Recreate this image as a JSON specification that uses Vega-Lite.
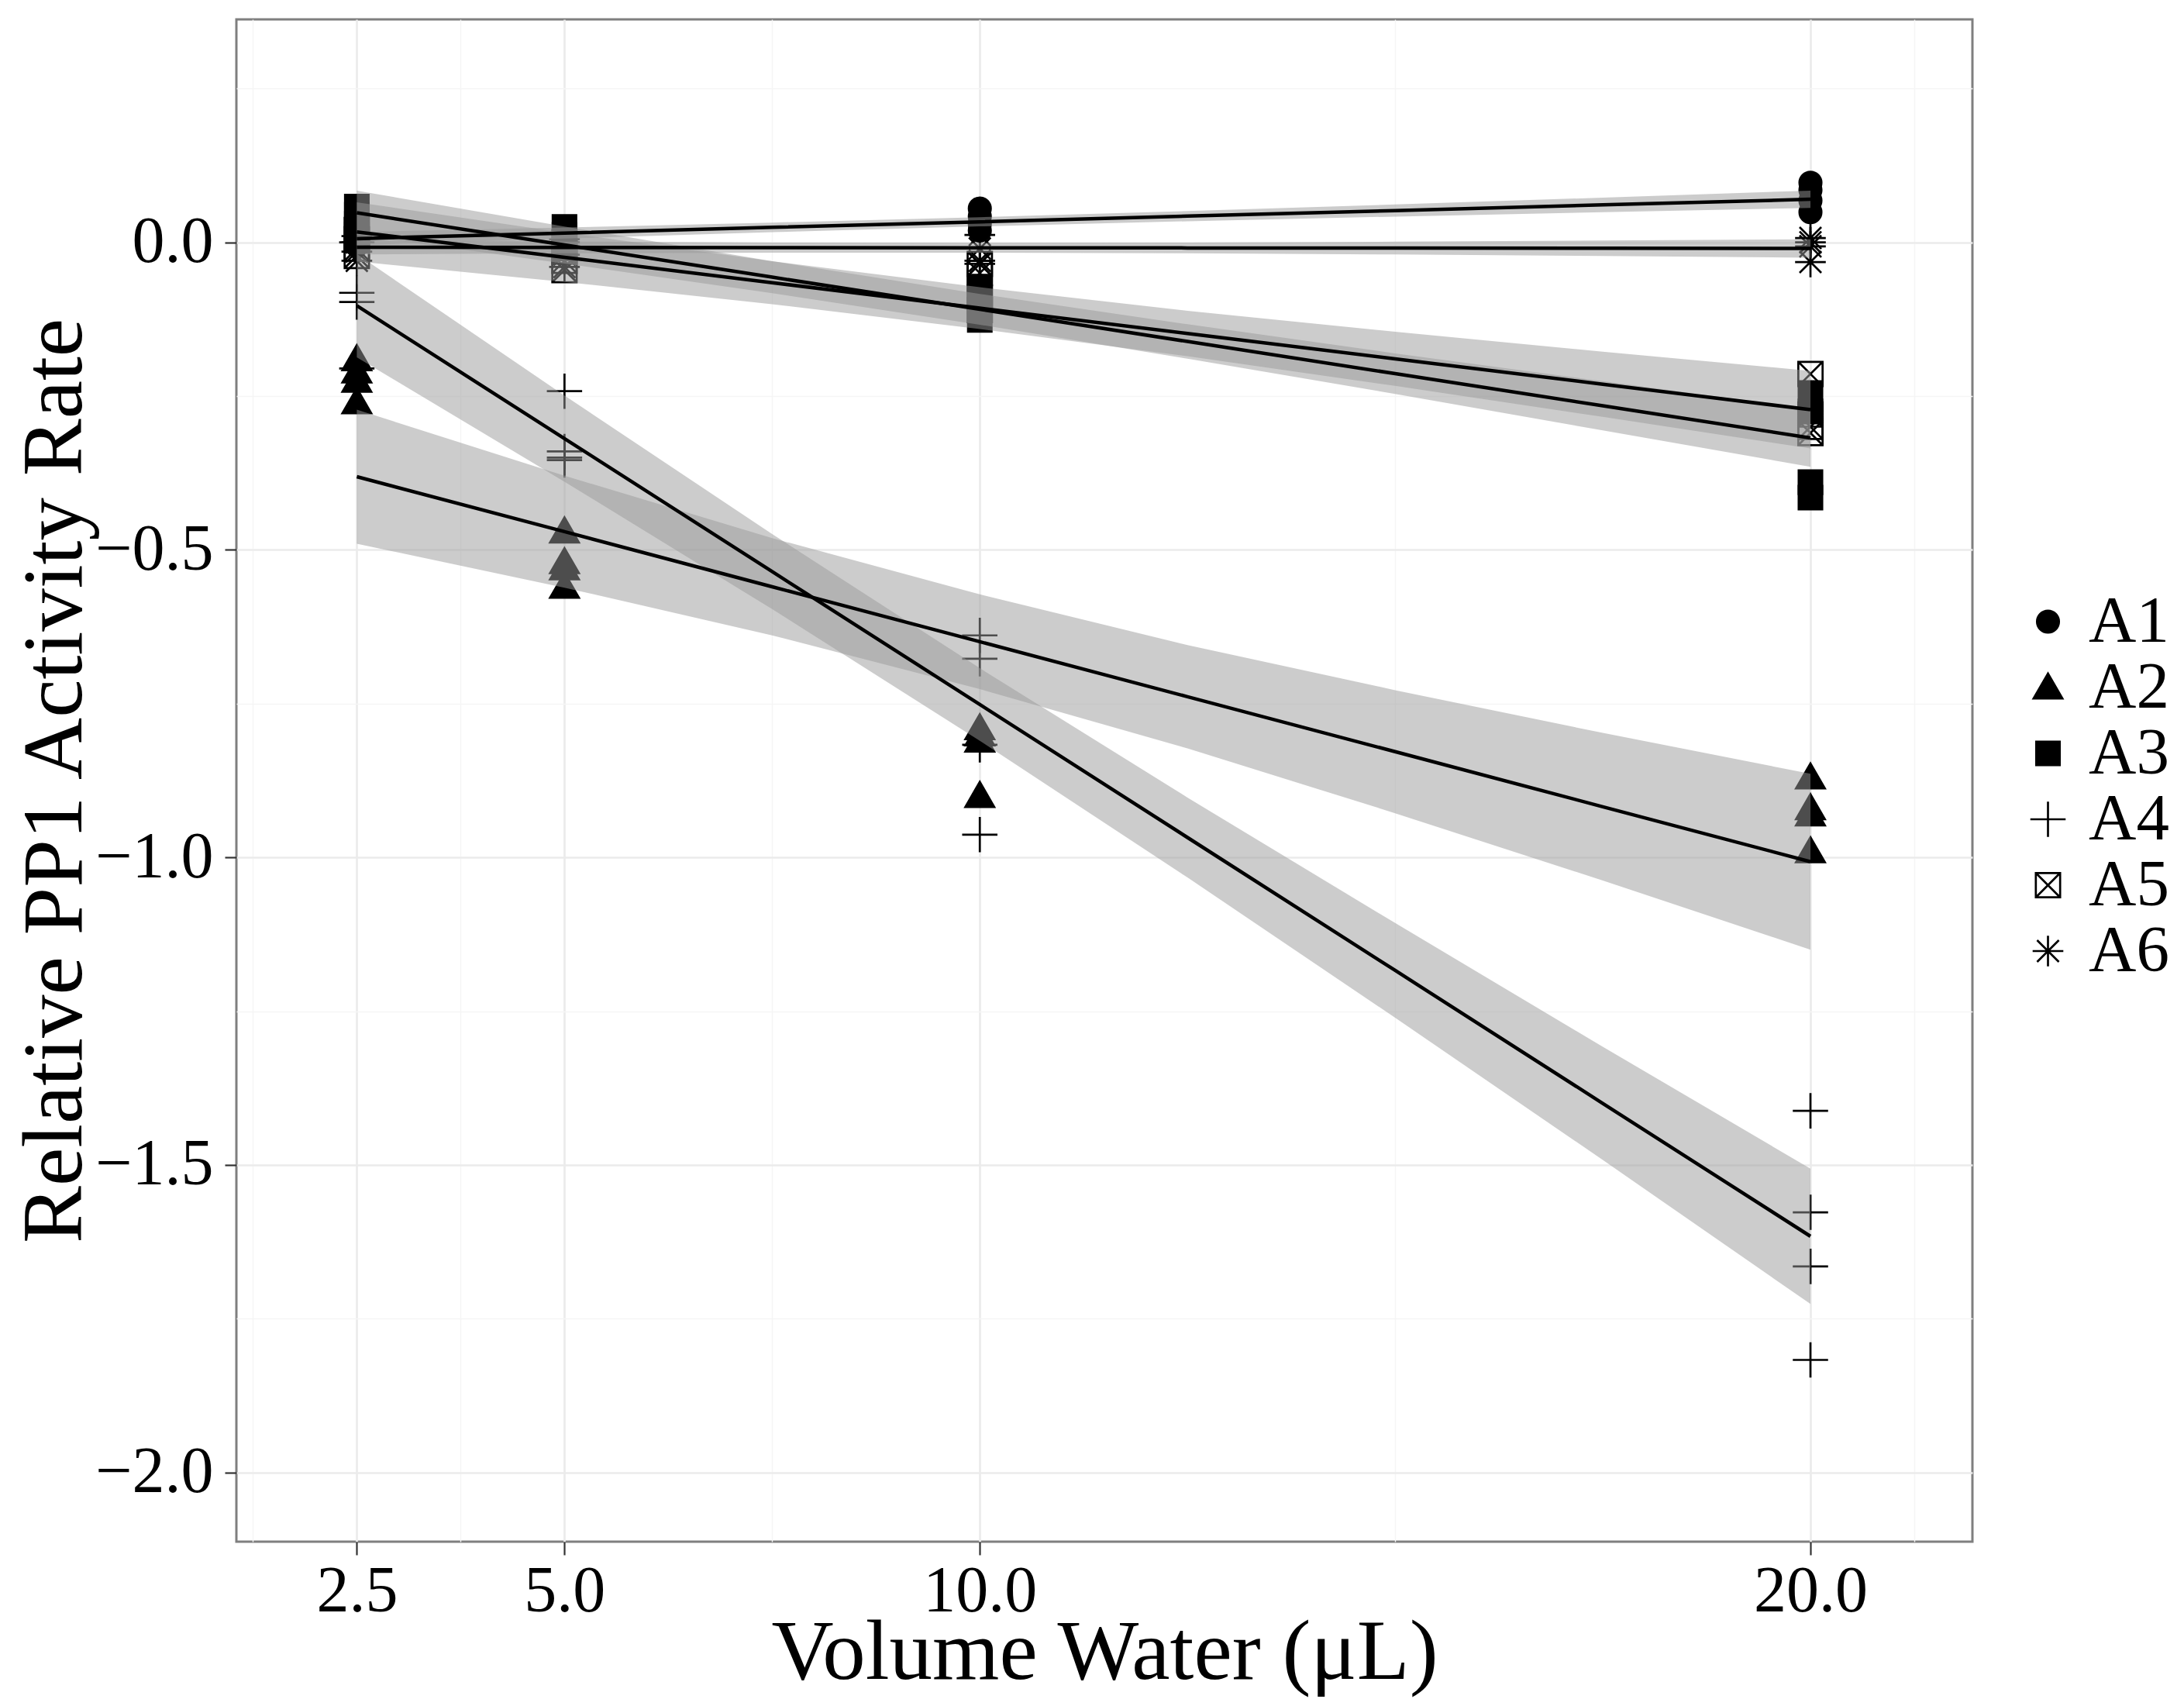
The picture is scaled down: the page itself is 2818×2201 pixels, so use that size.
{
  "$schema": "https://vega.github.io/schema/vega-lite/v6.json",
  "width": 2240,
  "height": 1964,
  "autosize": {"type": "none"},
  "padding": {"left": 305, "top": 25, "right": 273, "bottom": 212},
  "background": "white",
  "datasets": {
    "points": [
      {"group": "A1", "volume": 2.5, "rate": 0.025}, {"group": "A1", "volume": 2.5, "rate": 0.012}, {"group": "A1", "volume": 2.5, "rate": 0.003}, {"group": "A1", "volume": 2.5, "rate": -0.005},
      {"group": "A1", "volume": 5, "rate": 0.02}, {"group": "A1", "volume": 5, "rate": 0.012}, {"group": "A1", "volume": 5, "rate": 0.005}, {"group": "A1", "volume": 5, "rate": -0.005},
      {"group": "A1", "volume": 10, "rate": 0.055}, {"group": "A1", "volume": 10, "rate": 0.042}, {"group": "A1", "volume": 10, "rate": 0.03}, {"group": "A1", "volume": 10, "rate": 0.019},
      {"group": "A1", "volume": 20, "rate": 0.097}, {"group": "A1", "volume": 20, "rate": 0.085}, {"group": "A1", "volume": 20, "rate": 0.068}, {"group": "A1", "volume": 20, "rate": 0.049},
      {"group": "A2", "volume": 2.5, "rate": -0.19}, {"group": "A2", "volume": 2.5, "rate": -0.21}, {"group": "A2", "volume": 2.5, "rate": -0.225}, {"group": "A2", "volume": 2.5, "rate": -0.26},
      {"group": "A2", "volume": 5, "rate": -0.47}, {"group": "A2", "volume": 5, "rate": -0.52}, {"group": "A2", "volume": 5, "rate": -0.53}, {"group": "A2", "volume": 5, "rate": -0.56},
      {"group": "A2", "volume": 10, "rate": -0.79}, {"group": "A2", "volume": 10, "rate": -0.8}, {"group": "A2", "volume": 10, "rate": -0.81}, {"group": "A2", "volume": 10, "rate": -0.9},
      {"group": "A2", "volume": 20, "rate": -0.87}, {"group": "A2", "volume": 20, "rate": -0.92}, {"group": "A2", "volume": 20, "rate": -0.93}, {"group": "A2", "volume": 20, "rate": -0.99},
      {"group": "A3", "volume": 2.5, "rate": 0.058}, {"group": "A3", "volume": 2.5, "rate": 0.045}, {"group": "A3", "volume": 2.5, "rate": 0.03}, {"group": "A3", "volume": 2.5, "rate": 0.012},
      {"group": "A3", "volume": 5, "rate": 0.025}, {"group": "A3", "volume": 5, "rate": 0.012}, {"group": "A3", "volume": 5, "rate": 0.0}, {"group": "A3", "volume": 5, "rate": -0.01},
      {"group": "A3", "volume": 10, "rate": -0.072}, {"group": "A3", "volume": 10, "rate": -0.095}, {"group": "A3", "volume": 10, "rate": -0.11}, {"group": "A3", "volume": 10, "rate": -0.126},
      {"group": "A3", "volume": 20, "rate": -0.245}, {"group": "A3", "volume": 20, "rate": -0.275}, {"group": "A3", "volume": 20, "rate": -0.39}, {"group": "A3", "volume": 20, "rate": -0.415},
      {"group": "A4", "volume": 2.5, "rate": 0.0}, {"group": "A4", "volume": 2.5, "rate": -0.082}, {"group": "A4", "volume": 2.5, "rate": -0.097}, {"group": "A4", "volume": 2.5, "rate": -0.205},
      {"group": "A4", "volume": 5, "rate": -0.242}, {"group": "A4", "volume": 5, "rate": -0.34}, {"group": "A4", "volume": 5, "rate": -0.35}, {"group": "A4", "volume": 5, "rate": -0.354},
      {"group": "A4", "volume": 10, "rate": -0.639}, {"group": "A4", "volume": 10, "rate": -0.677}, {"group": "A4", "volume": 10, "rate": -0.817}, {"group": "A4", "volume": 10, "rate": -0.963},
      {"group": "A4", "volume": 20, "rate": -1.412}, {"group": "A4", "volume": 20, "rate": -1.577}, {"group": "A4", "volume": 20, "rate": -1.665}, {"group": "A4", "volume": 20, "rate": -1.817},
      {"group": "A5", "volume": 2.5, "rate": -0.022}, {"group": "A5", "volume": 2.5, "rate": -0.01}, {"group": "A5", "volume": 2.5, "rate": 0.005}, {"group": "A5", "volume": 2.5, "rate": 0.02},
      {"group": "A5", "volume": 5, "rate": -0.045}, {"group": "A5", "volume": 5, "rate": -0.03}, {"group": "A5", "volume": 5, "rate": -0.015}, {"group": "A5", "volume": 5, "rate": 0.0},
      {"group": "A5", "volume": 10, "rate": -0.035}, {"group": "A5", "volume": 10, "rate": -0.05}, {"group": "A5", "volume": 10, "rate": -0.09}, {"group": "A5", "volume": 10, "rate": -0.11},
      {"group": "A5", "volume": 20, "rate": -0.214}, {"group": "A5", "volume": 20, "rate": -0.28}, {"group": "A5", "volume": 20, "rate": -0.3}, {"group": "A5", "volume": 20, "rate": -0.31},
      {"group": "A6", "volume": 2.5, "rate": -0.03}, {"group": "A6", "volume": 2.5, "rate": -0.015}, {"group": "A6", "volume": 2.5, "rate": 0.0}, {"group": "A6", "volume": 2.5, "rate": 0.01},
      {"group": "A6", "volume": 5, "rate": -0.04}, {"group": "A6", "volume": 5, "rate": -0.02}, {"group": "A6", "volume": 5, "rate": 0.0}, {"group": "A6", "volume": 5, "rate": 0.005},
      {"group": "A6", "volume": 10, "rate": 0.012}, {"group": "A6", "volume": 10, "rate": -0.01}, {"group": "A6", "volume": 10, "rate": -0.03}, {"group": "A6", "volume": 10, "rate": -0.035},
      {"group": "A6", "volume": 20, "rate": 0.007}, {"group": "A6", "volume": 20, "rate": 0.0}, {"group": "A6", "volume": 20, "rate": -0.0065}, {"group": "A6", "volume": 20, "rate": -0.032}
    ],
    "fits": [
      {"group": "A1", "volume": 2.5, "fit": 0.006, "lo": -0.0047, "hi": 0.0167},
      {"group": "A1", "volume": 5, "fit": 0.0151, "lo": 0.0061, "hi": 0.0241},
      {"group": "A1", "volume": 7.5, "fit": 0.0243, "lo": 0.0165, "hi": 0.0321},
      {"group": "A1", "volume": 10, "fit": 0.0334, "lo": 0.0259, "hi": 0.0409},
      {"group": "A1", "volume": 12.5, "fit": 0.0426, "lo": 0.0343, "hi": 0.0509},
      {"group": "A1", "volume": 15, "fit": 0.0517, "lo": 0.0419, "hi": 0.0615},
      {"group": "A1", "volume": 17.5, "fit": 0.0609, "lo": 0.0491, "hi": 0.0727},
      {"group": "A1", "volume": 20, "fit": 0.07, "lo": 0.0559, "hi": 0.0841},
      {"group": "A2", "volume": 2.5, "fit": -0.381, "lo": -0.49, "hi": -0.272},
      {"group": "A2", "volume": 5, "fit": -0.4704, "lo": -0.5614, "hi": -0.3794},
      {"group": "A2", "volume": 7.5, "fit": -0.5599, "lo": -0.6389, "hi": -0.4809},
      {"group": "A2", "volume": 10, "fit": -0.6493, "lo": -0.7263, "hi": -0.5723},
      {"group": "A2", "volume": 12.5, "fit": -0.7387, "lo": -0.8227, "hi": -0.6547},
      {"group": "A2", "volume": 15, "fit": -0.8281, "lo": -0.9281, "hi": -0.7281},
      {"group": "A2", "volume": 17.5, "fit": -0.9176, "lo": -1.0376, "hi": -0.7976},
      {"group": "A2", "volume": 20, "fit": -1.007, "lo": -1.15, "hi": -0.864},
      {"group": "A3", "volume": 2.5, "fit": 0.048, "lo": 0.012, "hi": 0.084},
      {"group": "A3", "volume": 5, "fit": -0.0043, "lo": -0.0343, "hi": 0.0257},
      {"group": "A3", "volume": 7.5, "fit": -0.0566, "lo": -0.0826, "hi": -0.0306},
      {"group": "A3", "volume": 10, "fit": -0.1089, "lo": -0.1339, "hi": -0.0839},
      {"group": "A3", "volume": 12.5, "fit": -0.1612, "lo": -0.1892, "hi": -0.1332},
      {"group": "A3", "volume": 15, "fit": -0.2135, "lo": -0.2465, "hi": -0.1805},
      {"group": "A3", "volume": 17.5, "fit": -0.2657, "lo": -0.3057, "hi": -0.2257},
      {"group": "A3", "volume": 20, "fit": -0.318, "lo": -0.365, "hi": -0.271},
      {"group": "A4", "volume": 2.5, "fit": -0.103, "lo": -0.187, "hi": -0.019},
      {"group": "A4", "volume": 5, "fit": -0.3191, "lo": -0.3891, "hi": -0.2491},
      {"group": "A4", "volume": 7.5, "fit": -0.5353, "lo": -0.5963, "hi": -0.4743},
      {"group": "A4", "volume": 10, "fit": -0.7514, "lo": -0.8104, "hi": -0.6924},
      {"group": "A4", "volume": 12.5, "fit": -0.9676, "lo": -1.0326, "hi": -0.9026},
      {"group": "A4", "volume": 15, "fit": -1.1837, "lo": -1.2607, "hi": -1.1067},
      {"group": "A4", "volume": 17.5, "fit": -1.3999, "lo": -1.4919, "hi": -1.3079},
      {"group": "A4", "volume": 20, "fit": -1.616, "lo": -1.726, "hi": -1.506},
      {"group": "A5", "volume": 2.5, "fit": 0.017, "lo": -0.031, "hi": 0.065},
      {"group": "A5", "volume": 5, "fit": -0.0243, "lo": -0.0643, "hi": 0.0157},
      {"group": "A5", "volume": 7.5, "fit": -0.0656, "lo": -0.1006, "hi": -0.0306},
      {"group": "A5", "volume": 10, "fit": -0.1069, "lo": -0.1409, "hi": -0.0729},
      {"group": "A5", "volume": 12.5, "fit": -0.1482, "lo": -0.1852, "hi": -0.1112},
      {"group": "A5", "volume": 15, "fit": -0.1894, "lo": -0.2334, "hi": -0.1454},
      {"group": "A5", "volume": 17.5, "fit": -0.2307, "lo": -0.2837, "hi": -0.1777},
      {"group": "A5", "volume": 20, "fit": -0.272, "lo": -0.335, "hi": -0.209},
      {"group": "A6", "volume": 2.5, "fit": -0.008, "lo": -0.0195, "hi": 0.0035},
      {"group": "A6", "volume": 5, "fit": -0.0083, "lo": -0.0179, "hi": 0.0013},
      {"group": "A6", "volume": 7.5, "fit": -0.0086, "lo": -0.0169, "hi": -0.0003},
      {"group": "A6", "volume": 10, "fit": -0.0089, "lo": -0.0169, "hi": -0.0009},
      {"group": "A6", "volume": 12.5, "fit": -0.0091, "lo": -0.0179, "hi": -0.0003},
      {"group": "A6", "volume": 15, "fit": -0.0094, "lo": -0.0198, "hi": 0.001},
      {"group": "A6", "volume": 17.5, "fit": -0.0097, "lo": -0.0223, "hi": 0.0029},
      {"group": "A6", "volume": 20, "fit": -0.01, "lo": -0.025, "hi": 0.005}
    ]
  },
  "layer": [
    {
      "data": {"name": "points"},
      "mark": {"type": "point", "filled": true, "stroke": "black", "strokeWidth": 2.7, "size": 1089, "opacity": 1},
      "encoding": {
        "x": {
          "field": "volume",
          "type": "quantitative",
          "scale": {"domain": [1.05, 21.95], "nice": false, "zero": false},
          "axis": {
            "values": [1.25, 2.5, 3.75, 5, 7.5, 10, 15, 20, 21.25],
            "labelExpr": "indexof([2.5, 5, 10, 20], datum.value) >= 0 ? format(datum.value, '.1f') : ''",
            "title": "Volume Water (μL)",
            "titleX": 1120,
            "titleY": 176,
            "titleAlign": "center",
            "titleBaseline": "alphabetic",
            "labelPadding": 6,
            "tickSize": 17,
            "tickOpacity": {"condition": {"test": "indexof([2.5, 5, 10, 20], datum.value) < 0", "value": 0}, "value": 1},
            "gridColor": {"condition": {"test": "indexof([2.5, 5, 10, 20], datum.value) < 0", "value": "#f5f5f5"}, "value": "#ebebeb"},
            "gridWidth": {"condition": {"test": "indexof([2.5, 5, 10, 20], datum.value) < 0", "value": 1.4}, "value": 2.7}
          }
        },
        "y": {
          "field": "rate",
          "type": "quantitative",
          "scale": {"domain": [-2.1125, 0.3625], "nice": false, "zero": false},
          "axis": {
            "values": [-2, -1.75, -1.5, -1.25, -1, -0.75, -0.5, -0.25, 0, 0.25],
            "labelExpr": "datum.value % 0.5 == 0 ? format(datum.value, '.1f') : ''",
            "title": "Relative PP1 Activity Rate",
            "titleX": -201,
            "titleY": 982,
            "titleAngle": 270,
            "titleAlign": "center",
            "titleBaseline": "alphabetic",
            "labelPadding": 15,
            "tickSize": 15,
            "tickOpacity": {"condition": {"test": "datum.value % 0.5 != 0", "value": 0}, "value": 1},
            "gridColor": {"condition": {"test": "datum.value % 0.5 != 0", "value": "#f5f5f5"}, "value": "#ebebeb"},
            "gridWidth": {"condition": {"test": "datum.value % 0.5 != 0", "value": 1.4}, "value": 2.7}
          }
        },
        "shape": {
          "field": "group",
          "type": "nominal",
          "scale": {
            "domain": ["A1", "A2", "A3", "A4", "A5", "A6"],
            "range": [
              "M-0.86,0A0.86,0.86,0,1,0,0.86,0A0.86,0.86,0,1,0,-0.86,0Z",
              "M0,-1.1L1.13,0.86L-1.13,0.86Z",
              "M-0.92,-0.92L0.92,-0.92L0.92,0.92L-0.92,0.92Z",
              "M-1.38,0L1.38,0M0,-1.38L0,1.38",
              "M-0.95,-0.95L0.95,-0.95L0.95,0.95L-0.95,0.95ZM-0.95,-0.95L0.95,0.95M-0.95,0.95L0.95,-0.95",
              "M-1.2,0L1.2,0M0,-1.2L0,1.2M-0.85,-0.85L0.85,0.85M-0.85,0.85L0.85,-0.85"
            ]
          },
          "legend": {
            "title": null, "orient": "none", "legendX": 2295, "legendY": 736,
            "encode": {"symbols": {"update": {"stroke": {"value": "black"}, "strokeWidth": {"value": 2.7}, "opacity": {"value": 1}}}}
          }
        },
        "fill": {
          "field": "group",
          "type": "nominal",
          "scale": {
            "domain": ["A1", "A2", "A3", "A4", "A5", "A6"],
            "range": ["black", "black", "black", "transparent", "transparent", "transparent"]
          },
          "legend": {
            "title": null, "orient": "none", "legendX": 2295, "legendY": 736,
            "encode": {"symbols": {"update": {"stroke": {"value": "black"}, "strokeWidth": {"value": 2.7}, "opacity": {"value": 1}}}}
          }
        }
      }
    },
    {
      "data": {"name": "fits"},
      "mark": {"type": "area", "fill": "#999999", "fillOpacity": 0.5},
      "encoding": {
        "x": {"field": "volume", "type": "quantitative", "scale": {"domain": [1.05, 21.95], "nice": false, "zero": false}},
        "y": {"field": "lo", "type": "quantitative", "scale": {"domain": [-2.1125, 0.3625], "nice": false, "zero": false}},
        "y2": {"field": "hi"},
        "detail": {"field": "group", "type": "nominal"}
      }
    },
    {
      "data": {"name": "fits"},
      "mark": {"type": "line", "color": "black", "strokeWidth": 4.5},
      "encoding": {
        "x": {"field": "volume", "type": "quantitative", "scale": {"domain": [1.05, 21.95], "nice": false, "zero": false}},
        "y": {"field": "fit", "type": "quantitative", "scale": {"domain": [-2.1125, 0.3625], "nice": false, "zero": false}},
        "detail": {"field": "group", "type": "nominal"}
      }
    }
  ],
  "config": {
    "view": {"stroke": "#7f7f7f", "strokeWidth": 3},
    "font": "Liberation Serif",
    "axis": {
      "domain": false,
      "grid": true,
      "labelFont": "Liberation Serif",
      "labelFontSize": 84,
      "labelColor": "black",
      "labelOverlap": false,
      "labelFlush": false,
      "tickColor": "#333333",
      "tickWidth": 2.2,
      "titleFont": "Liberation Serif",
      "titleFontSize": 111,
      "titleFontWeight": "normal",
      "titleColor": "black"
    },
    "legend": {
      "padding": 0,
      "labelFont": "Liberation Serif",
      "labelFontSize": 85,
      "labelColor": "black",
      "labelOffset": 10,
      "rowPadding": 0,
      "clipHeight": 82,
      "symbolSize": 1089,
      "symbolStrokeColor": "black",
      "symbolStrokeWidth": 2.7,
      "symbolOpacity": 1
    }
  }
}
